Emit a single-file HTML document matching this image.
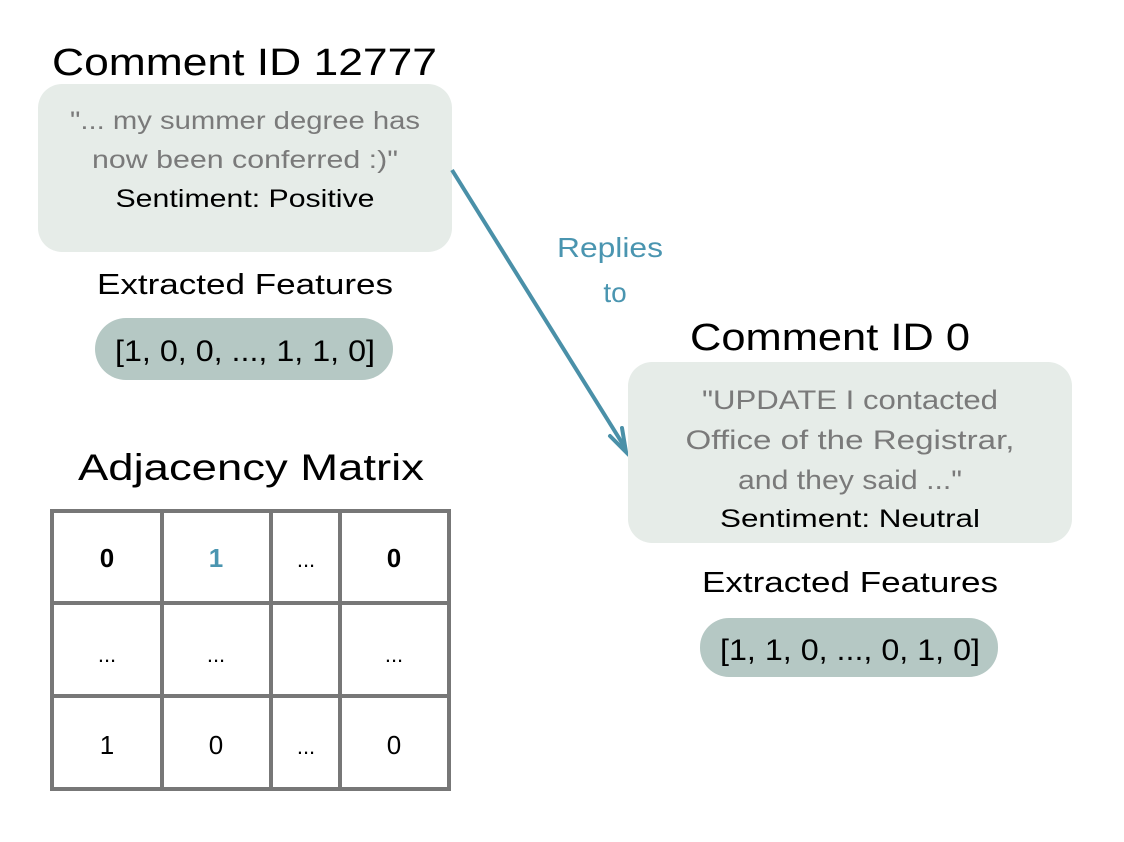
<!DOCTYPE html>
<html><head><meta charset="utf-8"><style>
html,body{margin:0;padding:0;background:#fff;}
svg{display:block;}
text{font-family:"Liberation Sans","DejaVu Sans",sans-serif;}
</style></head><body>
<svg width="1124" height="842" viewBox="0 0 1124 842" xmlns="http://www.w3.org/2000/svg">
<rect width="1124" height="842" fill="#fff"/>
<text x="52" y="75" font-size="38" fill="#000" textLength="385" lengthAdjust="spacingAndGlyphs">Comment  ID 12777</text>
<rect x="38" y="84" width="414" height="168" rx="24" fill="#e6ece8"/>
<g text-anchor="middle" font-size="25" lengthAdjust="spacingAndGlyphs">
<text x="245" y="129" fill="#7a7a7a" textLength="350" lengthAdjust="spacingAndGlyphs">"... my summer degree has</text>
<text x="245" y="168" fill="#7a7a7a" textLength="306" lengthAdjust="spacingAndGlyphs">now been conferred :)"</text>
<text x="245" y="207" fill="#000" textLength="259" lengthAdjust="spacingAndGlyphs">Sentiment: Positive</text>
<text x="245" y="294" font-size="29" fill="#000" textLength="296" lengthAdjust="spacingAndGlyphs">Extracted Features</text>
</g>
<rect x="95" y="318" width="298" height="62" rx="31" fill="#b5c8c4"/>
<text x="245" y="361" text-anchor="middle" font-size="30" fill="#000" textLength="260" lengthAdjust="spacingAndGlyphs">[1, 0, 0, ..., 1, 1, 0]</text>

<text x="251" y="480" text-anchor="middle" font-size="37" fill="#000" textLength="346" lengthAdjust="spacingAndGlyphs">Adjacency Matrix</text>
<g stroke="#777" stroke-width="4" fill="none">
<rect x="52" y="511" width="397" height="278"/>
<line x1="162" y1="511" x2="162" y2="789"/>
<line x1="271" y1="511" x2="271" y2="789"/>
<line x1="340" y1="511" x2="340" y2="789"/>
<line x1="52" y1="603" x2="449" y2="603"/>
<line x1="52" y1="696" x2="449" y2="696"/>
</g>
<g text-anchor="middle" font-size="26">
<text x="107" y="567" font-weight="bold">0</text>
<text x="216" y="567" font-weight="bold" fill="#4a95b0">1</text>
<text x="306" y="567" font-size="22">...</text>
<text x="394" y="567" font-weight="bold">0</text>
<text x="107" y="662" font-size="22">...</text>
<text x="216" y="662" font-size="22">...</text>
<text x="394" y="662" font-size="22">...</text>
<text x="107" y="754">1</text>
<text x="216" y="754">0</text>
<text x="306" y="754" font-size="22">...</text>
<text x="394" y="754">0</text>
</g>

<line x1="452" y1="170" x2="624" y2="446" stroke="#4a90a8" stroke-width="4"/>
<path d="M610 436 L626 452 L622 428" stroke="#4a90a8" stroke-width="4" fill="none" stroke-linecap="round"/>
<g text-anchor="middle" font-size="28" fill="#4a95b0">
<text x="610" y="257" textLength="106" lengthAdjust="spacingAndGlyphs">Replies</text>
<text x="615" y="302">to</text>
</g>

<text x="690" y="350" font-size="38" fill="#000" textLength="280" lengthAdjust="spacingAndGlyphs">Comment ID 0</text>
<rect x="628" y="362" width="444" height="181" rx="24" fill="#e6ece8"/>
<g text-anchor="middle" font-size="27">
<text x="850" y="409" fill="#7a7a7a" textLength="296" lengthAdjust="spacingAndGlyphs">"UPDATE I contacted</text>
<text x="850" y="449" fill="#7a7a7a" textLength="329" lengthAdjust="spacingAndGlyphs">Office of the Registrar,</text>
<text x="850" y="489" fill="#7a7a7a" textLength="224" lengthAdjust="spacingAndGlyphs">and they said ..."</text>
<text x="850" y="527" font-size="25" fill="#000" textLength="260" lengthAdjust="spacingAndGlyphs">Sentiment: Neutral</text>
<text x="850" y="592" font-size="29" fill="#000" textLength="296" lengthAdjust="spacingAndGlyphs">Extracted Features</text>
</g>
<rect x="700" y="618" width="298" height="59" rx="29" fill="#b5c8c4"/>
<text x="850" y="660" text-anchor="middle" font-size="30" fill="#000" textLength="260" lengthAdjust="spacingAndGlyphs">[1, 1, 0, ..., 0, 1, 0]</text>
</svg>
</body></html>
